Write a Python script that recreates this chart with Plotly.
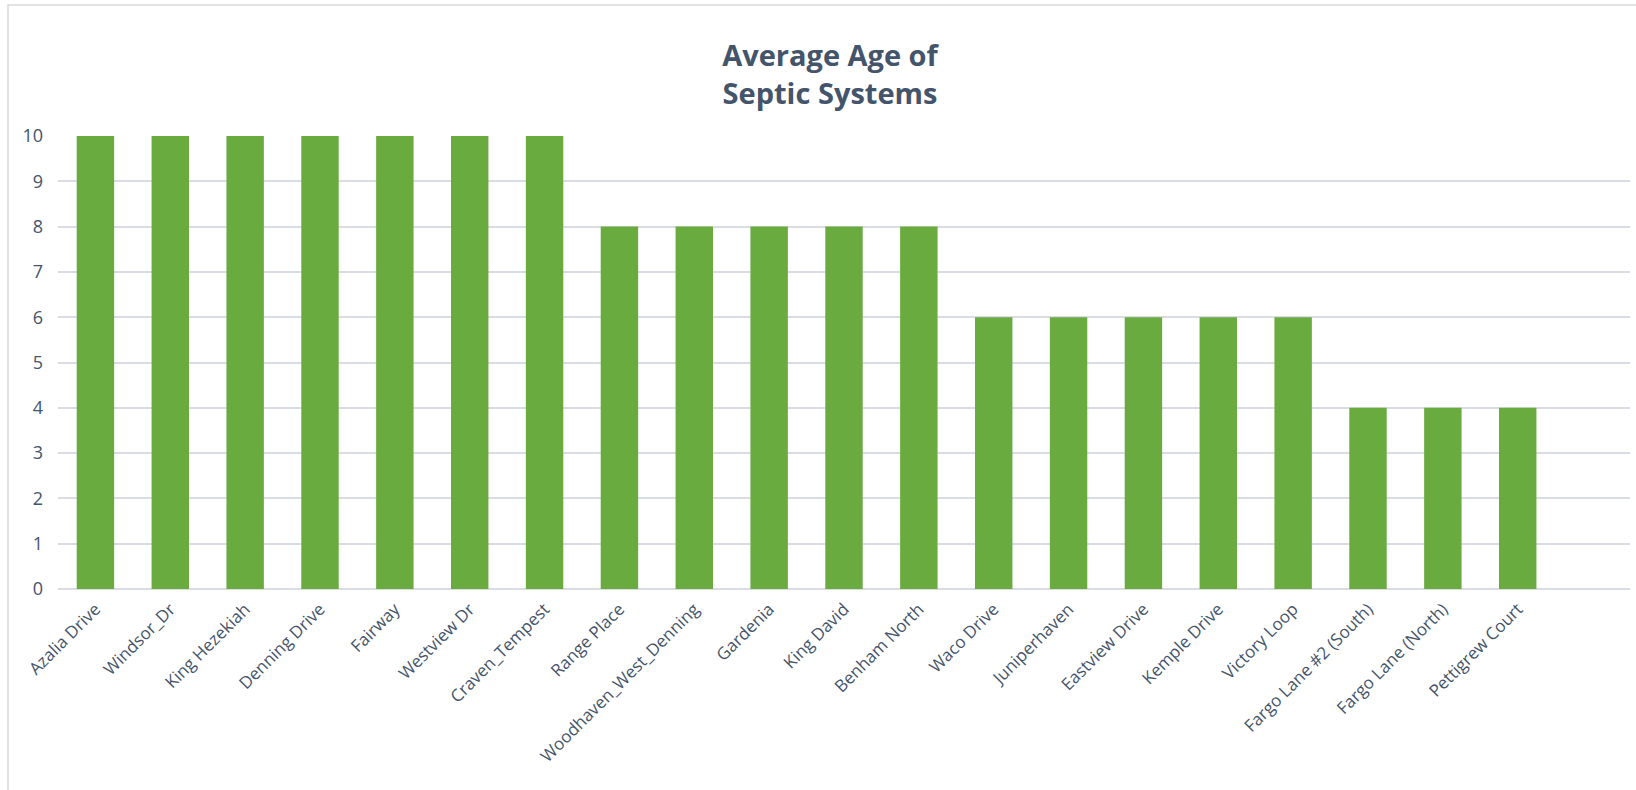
import plotly.graph_objects as go

categories = ["Azalia Drive", "Windsor_Dr", "King Hezekiah", "Denning Drive", "Fairway",
              "Westview Dr", "Craven_Tempest", "Range Place", "Woodhaven_West_Denning",
              "Gardenia", "King David", "Benham North", "Waco Drive", "Juniperhaven",
              "Eastview Drive", "Kemple Drive", "Victory Loop", "Fargo Lane #2 (South)",
              "Fargo Lane (North)", "Pettigrew Court", " "]
ages = [10, 10, 10, 10, 10, 10, 10, 8, 8, 8, 8, 8, 6, 6, 6, 6, 6, 4, 4, 4, None]
y_ticks = list(range(0, 11))

W, H = 1636, 790
L, R, T, B = 58, 6, 136, 201
pw, ph = W - L - R, H - T - B

def px(x):
    return (x - L) / pw

def py(y):
    return (H - B - y) / ph

TEXT = "#44546A"

fig = go.Figure()
fig.add_trace(go.Bar(
    x=categories, y=ages,
    marker=dict(color="#6AAB40", line=dict(width=0)),
    hoverinfo="x+y",
))

fig.update_layout(
    width=W, height=H,
    margin=dict(l=L, r=R, t=T, b=B, autoexpand=False),
    paper_bgcolor="white", plot_bgcolor="white",
    bargap=0.5,
    showlegend=False,
    font=dict(family="Open Sans", color=TEXT),
    title=dict(
        text="<b>Average Age of<br>Septic Systems</b>",
        xref="container", x=830 / W, xanchor="center",
        yref="container", y=1 - 66 / H, yanchor="middle",
        font=dict(size=29, color=TEXT, family="Open Sans"),
    ),
    xaxis=dict(
        type="category",
        tickangle=-45,
        tickfont=dict(size=17, color=TEXT),
        showgrid=False, showline=False, ticks="",
        ticklabelstandoff=6,
        range=[-0.5, len(categories) - 0.5],
    ),
    yaxis=dict(
        range=[0, 10],
        tickvals=y_ticks,
        tickfont=dict(size=18, color=TEXT),
        showgrid=True, gridcolor="#D9DCE3", gridwidth=1.5,
        zeroline=True, zerolinecolor="#D9DCE3", zerolinewidth=1.5,
        ticks="", ticklabelstandoff=14,
    ),
    shapes=[dict(
        type="rect", xref="paper", yref="paper",
        x0=px(8), x1=px(1700), y0=py(900), y1=py(5),
        line=dict(color="#D9D9D9", width=1.5), fillcolor="rgba(0,0,0,0)",
        layer="below",
    )],
)

fig.write_html("out.html")
